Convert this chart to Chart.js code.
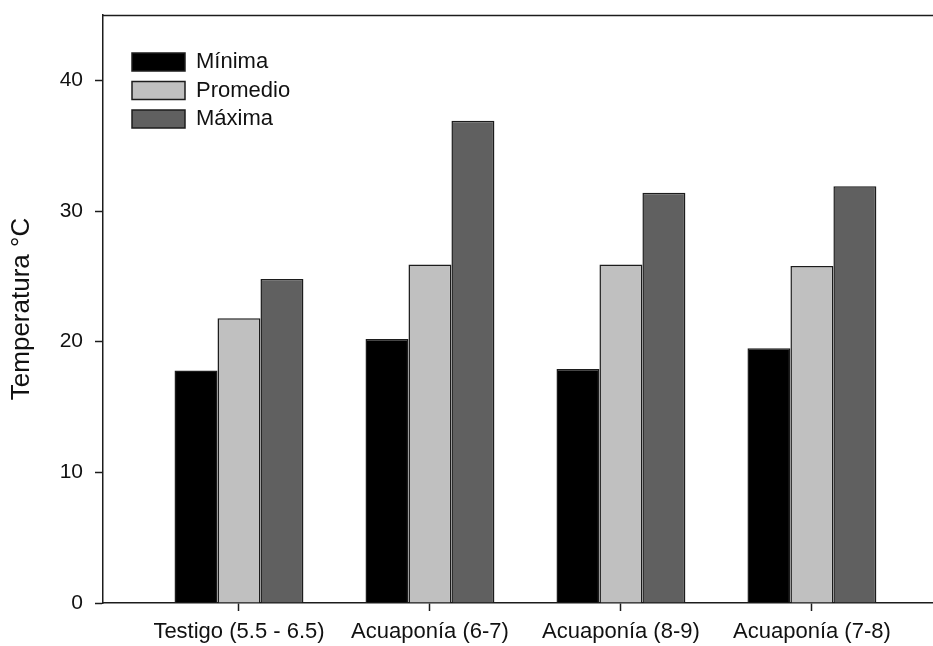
<!DOCTYPE html>
<html>
<head>
<meta charset="utf-8">
<script src="https://cdn.jsdelivr.net/npm/chart.js@4/dist/chart.umd.min.js"></script>
<style>
  html, body { margin: 0; padding: 0; background: #fff; }
  #wrap { width: 933px; height: 646px; }
</style>
</head>
<body>
<div id="wrap"><canvas id="c" width="933" height="646"></canvas></div>
<script>
// Temperature per treatment (°C)
const categories = ['Testigo (5.5 - 6.5)', 'Acuaponía (6-7)', 'Acuaponía (8-9)', 'Acuaponía (7-8)'];
const minima   = [17.8, 20.2, 17.9, 19.5];
const promedio = [21.8, 25.9, 25.9, 25.8];
const maxima   = [24.8, 36.9, 31.4, 31.9];
const yTicks   = [0, 10, 20, 30, 40];

const ink = '#111';
const lineCol = '#1c1c1c';
const family = '"Liberation Sans", Arial, sans-serif';

const toPoints = arr => arr.map((v, i) => ({ x: i, y: v }));

// Frame line along the top of the plot area
const topFrame = {
  id: 'topFrame',
  afterDraw(chart) {
    const { ctx, chartArea } = chart;
    ctx.save();
    ctx.strokeStyle = lineCol;
    ctx.lineWidth = 1.5;
    ctx.beginPath();
    ctx.moveTo(chartArea.left, chartArea.top + 0.5);
    ctx.lineTo(chartArea.right, chartArea.top + 0.5);
    ctx.stroke();
    ctx.restore();
  }
};

// Keep the legend tucked in the upper-left corner of the plot
const legendInset = {
  id: 'legendInset',
  beforeDraw(chart) {
    const lg = chart.legend;
    if (!lg) return;
    const a = chart.chartArea;
    lg.left = a.left + 22.5;
    lg.top = a.top + 29.5;
    lg.right = a.right;
    lg.bottom = a.bottom;
  }
};

new Chart(document.getElementById('c'), {
  type: 'bar',
  data: {
    datasets: [
      { label: 'Mínima',   data: toPoints(minima),   backgroundColor: '#000000', borderColor: lineCol, borderWidth: 1.5 },
      { label: 'Promedio', data: toPoints(promedio), backgroundColor: '#c0c0c0', borderColor: lineCol, borderWidth: 1.5 },
      { label: 'Máxima',   data: toPoints(maxima),   backgroundColor: '#606060', borderColor: lineCol, borderWidth: 1.5 }
    ]
  },
  options: {
    responsive: false,
    animation: false,
    layout: { padding: { top: 15, right: 0, left: 0, bottom: 0 } },
    categoryPercentage: 0.675,
    barPercentage: 1.0,
    plugins: {
      tooltip: { enabled: false },
      legend: {
        position: 'chartArea',
        align: 'start',
        labels: {
          boxWidth: 53,
          boxHeight: 18,
          padding: 6.5,
          color: ink,
          font: { family, size: 22 }
        }
      }
    },
    scales: {
      x: {
        type: 'linear',
        offset: false,
        min: -0.712,
        max: 3.634,
        afterFit(scale) { scale.height = 43; scale.paddingLeft = 0; scale.paddingRight = 0; },
        border: { display: true, color: lineCol, width: 1.5 },
        grid: { drawOnChartArea: false, drawTicks: true, tickLength: 8, tickColor: lineCol, tickWidth: 1.5, offset: false },
        ticks: {
          stepSize: 1,
          includeBounds: false,
          autoSkip: false,
          maxRotation: 0,
          padding: 8,
          color: ink,
          font: { family, size: 22 },
          callback: v => (Number.isInteger(v) && categories[v] !== undefined) ? categories[v] : ''
        }
      },
      y: {
        min: 0,
        max: 45,
        afterFit(scale) { scale.width = 103; scale.paddingTop = 0; scale.paddingBottom = 0; },
        afterBuildTicks(scale) { scale.ticks = yTicks.map(v => ({ value: v })); },
        border: { display: true, color: lineCol, width: 1.5 },
        grid: { drawOnChartArea: false, drawTicks: true, tickLength: 8, tickColor: lineCol, tickWidth: 1.5 },
        ticks: {
          padding: 12,
          color: ink,
          font: { family, size: 21 }
        },
        title: {
          display: true,
          text: 'Temperatura °C',
          color: ink,
          font: { family, size: 26, weight: 'normal' },
          padding: { top: 6, bottom: 0 }
        }
      }
    }
  },
  plugins: [topFrame, legendInset]
});
</script>
</body>
</html>
